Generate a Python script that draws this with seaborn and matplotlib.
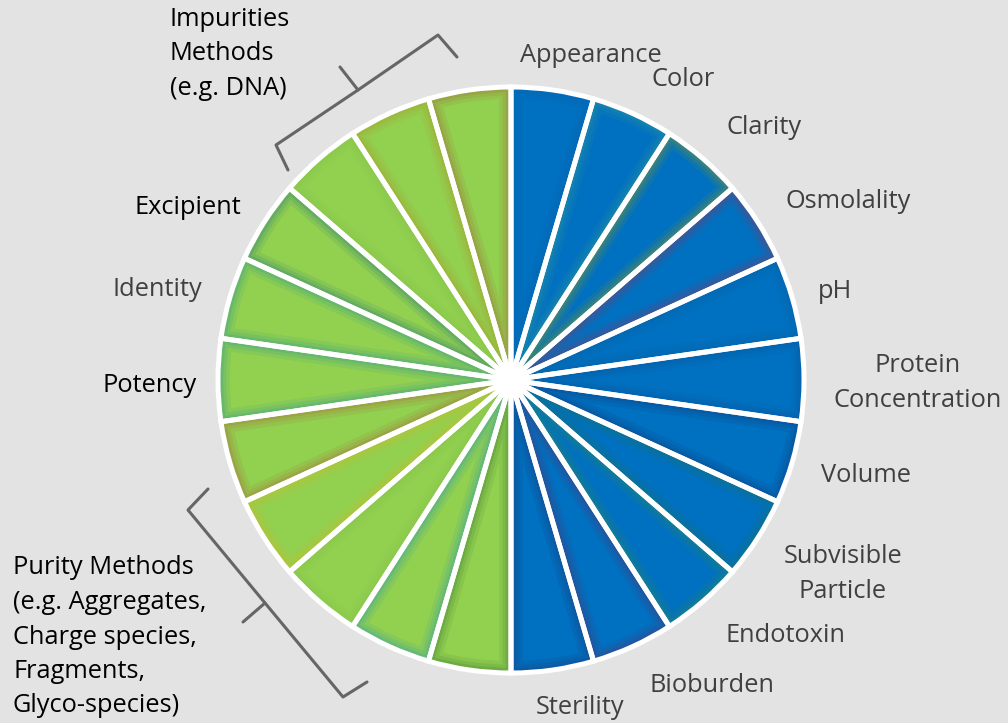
import matplotlib
matplotlib.use("Agg")
import matplotlib.pyplot as plt
from matplotlib.colors import to_rgba
import seaborn as sns

W, H = 1008, 723
BG = "#e3e3e3"

# 22 equal slices, clockwise from 12 o'clock
quality_attributes = ["Appearance", "Color", "Clarity", "Osmolality", "pH",
                      "Protein\nConcentration", "Volume", "Subvisible\nParticle",
                      "Endotoxin", "Bioburden", "Sterility"]
method_attributes = ["Purity", "Purity", "Purity", "Purity", "Purity",
                     "Potency", "Identity", "Excipient",
                     "Impurities", "Impurities", "Impurities"]
slice_labels = quality_attributes + method_attributes
slice_sizes = [1] * len(slice_labels)
slice_groups = ["quality"] * len(quality_attributes) + ["method"] * len(method_attributes)

group_notes = {
    "Impurities": "Impurities\nMethods\n(e.g. DNA)",
    "Purity": "Purity Methods\n(e.g. Aggregates,\nCharge species,\nFragments,\nGlyco-species)",
}

group_colors = {"quality": "#0070c0", "method": "#92d050"}
# soft inner-glow tint of each slice
glow_colors = ["#0a66b0", "#2f9a9a", "#7f9a2e", "#7a3f72", "#0b62a8", "#0b5aa0",
               "#123f80", "#1a7070", "#2a8a6a", "#4a3a78", "#1d3f80",
               "#3f7f35", "#2f9ea8", "#86c24a", "#c8c02a", "#a8703a",
               "#2f9a90", "#2f9a8a", "#2a7f78", "#86c24a", "#a8a02a", "#a0703a"]

sns.set_theme(style="white", rc={"figure.facecolor": BG, "axes.facecolor": BG})
plt.rcParams["font.family"] = ["Open Sans", "DejaVu Sans"]

fig = plt.figure(figsize=(W / 100, H / 100), dpi=100)
ax = fig.add_axes([0, 0, 1, 1])

cx, cy, R = 511, H - 380, 293
pie_kw = dict(startangle=90, counterclock=False, center=(cx, cy), radius=R)

base, _ = ax.pie(slice_sizes, colors=[group_colors[g] for g in slice_groups],
                 wedgeprops=dict(linewidth=0), **pie_kw)

for lw, a in [(17, 0.13), (12, 0.16), (7.5, 0.22), (3.5, 0.3)]:
    glow, _ = ax.pie(slice_sizes, colors=["none"] * len(slice_sizes),
                     wedgeprops=dict(linewidth=lw), **pie_kw)
    for g, b, c in zip(glow, base, glow_colors):
        g.set_edgecolor(to_rgba(c, a))
        g.set_clip_on(True)
        g.set_clip_path(b)

ax.pie(slice_sizes, colors=["none"] * len(slice_sizes),
       wedgeprops=dict(edgecolor="white", linewidth=3.6), **pie_kw)
ax.add_patch(plt.Circle((cx, cy), 12, color="white", zorder=4))

grey = "#404040"
fs = 18.3
ls = 1.5
label_pos = {
    "Appearance": (591, 55), "Color": (683, 80), "Clarity": (764, 128),
    "Osmolality": (848, 202), "pH": (835, 292), "Protein\nConcentration": (918, 383),
    "Volume": (866, 475), "Subvisible\nParticle": (843, 574), "Endotoxin": (786, 635),
    "Bioburden": (712, 685), "Sterility": (580, 707),
    "Potency": (150, 385), "Identity": (157, 290), "Excipient": (188, 207),
}
label_color = {"Potency": "black", "Excipient": "black"}
for lab in dict.fromkeys(slice_labels):
    if lab in label_pos:
        x, y = label_pos[lab]
        ax.text(x, H - y, lab, ha="center", va="center", fontsize=fs,
                color=label_color.get(lab, grey), linespacing=ls)

ax.text(170, H - 54, group_notes["Impurities"], ha="left", va="center",
        fontsize=fs, color="black", linespacing=ls)
ax.text(13, H - 637, group_notes["Purity"], ha="left", va="center",
        fontsize=fs, color="black", linespacing=ls)

# curly brackets
br = dict(color="#666666", lw=2.2, solid_joinstyle="round", solid_capstyle="round")
top = [(288, 170), (276, 145), (358, 90), (438, 35), (457, 57)]
ax.plot([p[0] for p in top], [H - p[1] for p in top], **br)
ax.plot([358, 340], [H - 90, H - 67], **br)
low = [(208, 489), (188, 510), (265, 603), (343, 697), (367, 682)]
ax.plot([p[0] for p in low], [H - p[1] for p in low], **br)
ax.plot([265, 243], [H - 603, H - 622], **br)

ax.set_xlim(0, W)
ax.set_ylim(0, H)
ax.set_aspect("auto")
ax.axis("off")

fig.savefig("out.png", dpi=100, facecolor=BG)
